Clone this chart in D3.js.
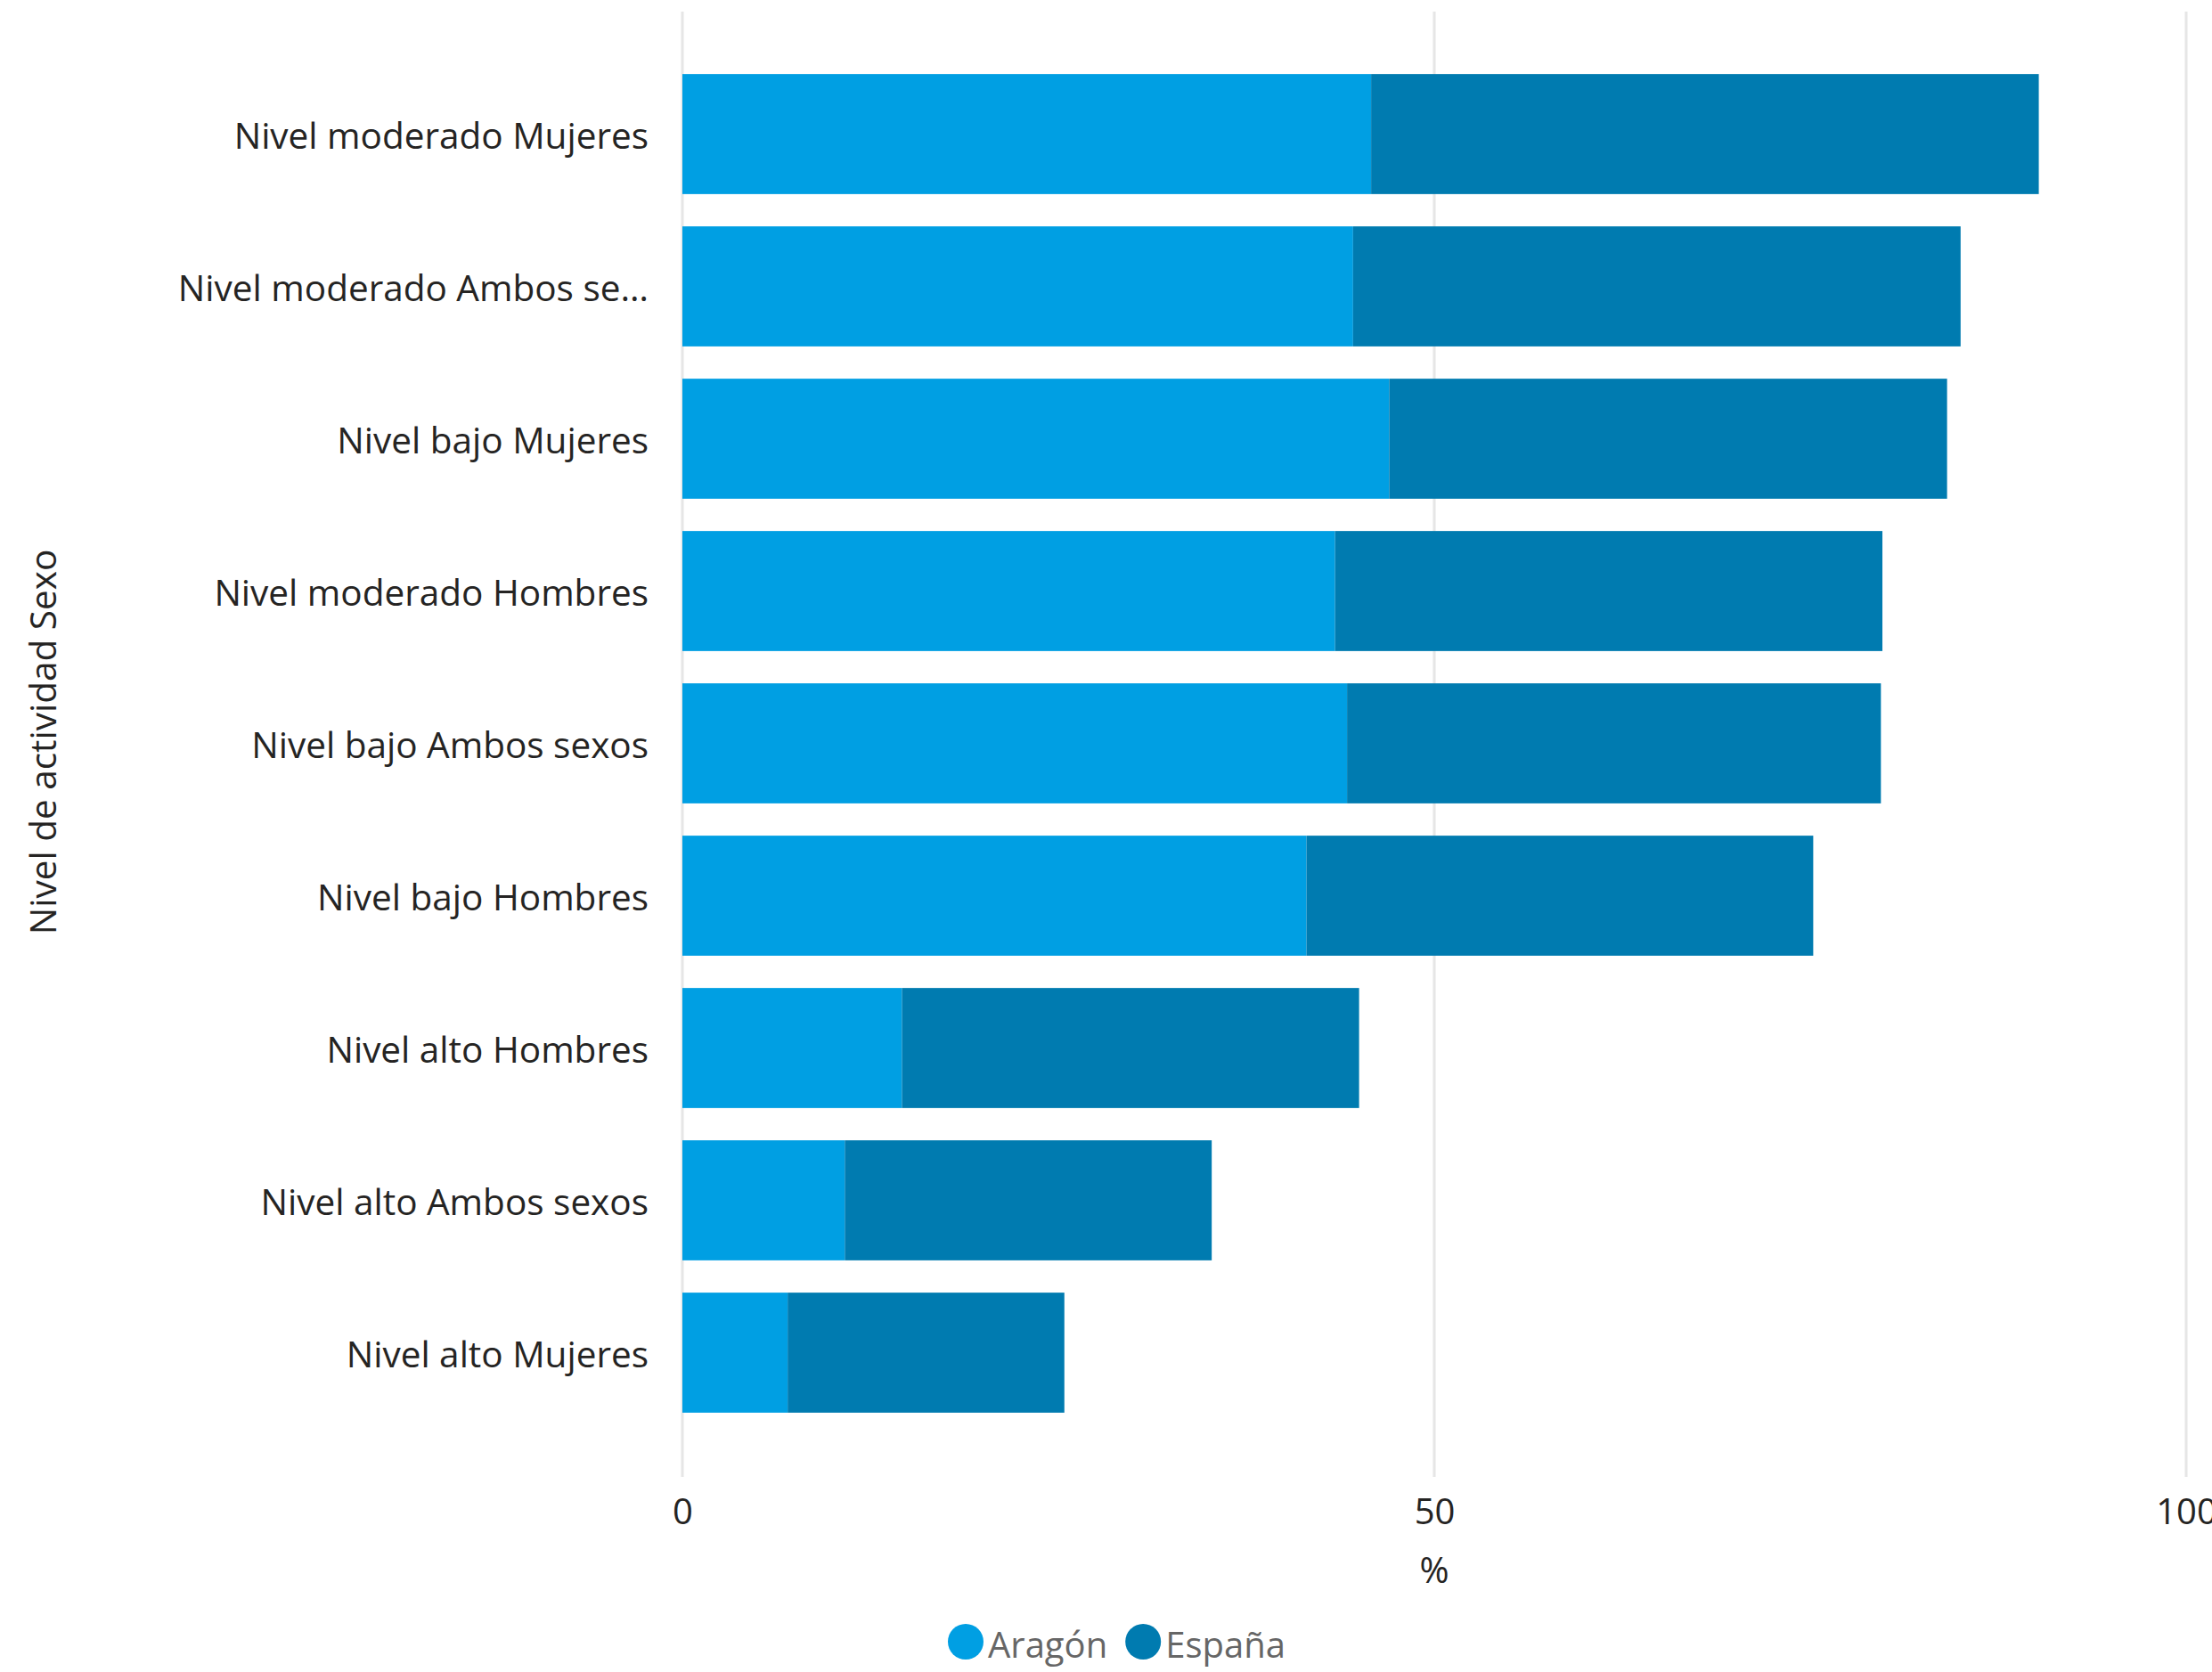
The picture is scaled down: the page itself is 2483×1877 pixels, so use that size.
<!DOCTYPE html>
<html>
<head>
<meta charset="utf-8">
<script src="https://cdn.jsdelivr.net/npm/d3@7/dist/d3.min.js"></script>
<style>
  html, body { margin: 0; padding: 0; background: #ffffff; }
  svg { display: block; }
  text { font-family: "Segoe UI", "Open Sans", "Noto Sans", sans-serif; }
</style>
</head>
<body>
<svg id="chart" width="2483" height="1877"></svg>
<script>
// ---- data ----
const categories = [
  "Nivel moderado Mujeres",
  "Nivel moderado Ambos sexos",
  "Nivel bajo Mujeres",
  "Nivel moderado Hombres",
  "Nivel bajo Ambos sexos",
  "Nivel bajo Hombres",
  "Nivel alto Hombres",
  "Nivel alto Ambos sexos",
  "Nivel alto Mujeres"
];
const seriesNames = ["Aragón", "España"];
const aragon = [45.8, 44.6, 47.0, 43.4, 44.2, 41.5, 14.6, 10.8, 7.0];
const espana = [44.4, 40.4, 37.1, 36.4, 35.5, 33.7, 30.4, 24.4, 18.4];
const xTicks = [0, 50, 100];
const xTitle = "%";
const yTitle = "Nivel de actividad Sexo";
const colors = ["#009FE3", "#007BB0"];

// ---- layout ----
const svg = d3.select("#chart");
const x = d3.scaleLinear().domain([0, 100]).range([766, 2454]);
const y = d3.scaleBand().domain(categories).range([65, 1604])
  .paddingInner(0.212).paddingOuter(0.106);

const rows = categories.map((c, i) => ({ cat: c, aragon: aragon[i], espana: espana[i] }));
const stack = d3.stack().keys(["aragon", "espana"])(rows);

// gridlines
svg.append("g").selectAll("line").data(xTicks).join("line")
  .attr("x1", d => x(d)).attr("x2", d => x(d))
  .attr("y1", 13).attr("y2", 1658)
  .attr("stroke", "#e6e6e6").attr("stroke-width", 3);

// bars
svg.append("g").selectAll("g").data(stack).join("g")
  .attr("fill", (d, i) => colors[i])
  .selectAll("rect").data(d => d).join("rect")
  .attr("x", d => x(d[0]))
  .attr("width", d => x(d[1]) - x(d[0]))
  .attr("y", d => y(d.data.cat))
  .attr("height", y.bandwidth());

// x axis tick labels
const xAxis = d3.axisBottom(x).tickValues(xTicks).tickSize(0).tickPadding(0);
const gx = svg.append("g").attr("transform", "translate(0,1711)").call(xAxis);
gx.select(".domain").remove();
gx.selectAll("text")
  .attr("dy", null).attr("y", 0)
  .attr("font-size", 40).attr("fill", "#252423")
  .attr("font-family", "\"Segoe UI\", \"Open Sans\", \"Noto Sans\", sans-serif");

svg.append("text").attr("x", x(50)).attr("y", 1777)
  .attr("text-anchor", "middle").attr("font-size", 40).attr("fill", "#252423")
  .text(xTitle);

// y axis category labels (with ellipsis truncation)
const maxLabelWidth = 540;
const yAxis = d3.axisLeft(y).tickSize(0).tickPadding(0);
const gy = svg.append("g").attr("transform", "translate(728,0)").call(yAxis);
gy.select(".domain").remove();
gy.selectAll("text")
  .attr("dy", null).attr("x", 0).attr("y", 16)
  .attr("font-size", 40.5).attr("fill", "#252423")
  .attr("font-family", "\"Segoe UI\", \"Open Sans\", \"Noto Sans\", sans-serif")
  .each(function(d) {
    const t = d3.select(this);
    let s = d;
    if (this.getComputedTextLength() > maxLabelWidth) {
      while (s.length > 1) {
        s = s.slice(0, -1);
        t.text(s.trimEnd() + "…");
        if (this.getComputedTextLength() <= maxLabelWidth) break;
      }
    }
  });

svg.append("text")
  .attr("transform", "translate(63,833) rotate(-90)")
  .attr("text-anchor", "middle").attr("font-size", 40.5).attr("fill", "#252423")
  .text(yTitle);

// legend
const legend = svg.append("g");
let lx = 1064;
seriesNames.forEach((name, i) => {
  legend.append("circle").attr("cx", lx + 20).attr("cy", 1843).attr("r", 20).attr("fill", colors[i]);
  const t = legend.append("text").attr("x", lx + 45).attr("y", 1861)
    .attr("font-size", 40).attr("fill", "#666666").text(name);
  lx = lx + 45 + t.node().getComputedTextLength() + 20;
});
</script>
</body>
</html>
